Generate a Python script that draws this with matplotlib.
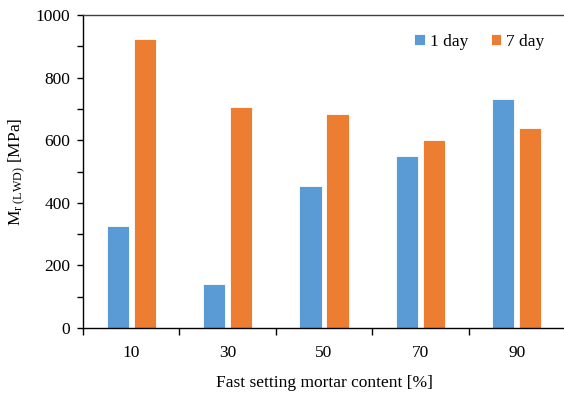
import matplotlib
matplotlib.use("Agg")
import matplotlib.pyplot as plt
import numpy as np
from matplotlib.ticker import MultipleLocator

categories = ["10", "30", "50", "70", "90"]
day1 = [325, 140, 455, 548, 733]
day7 = [922, 705, 683, 602, 638]
series_names = ["1 day", "7 day"]
colors = ["#5B9BD5", "#ED7D31"]

plt.rcParams['font.family'] = ['Liberation Serif']
plt.rcParams['mathtext.fontset'] = 'custom'
plt.rcParams['mathtext.rm'] = 'Liberation Serif'
plt.rcParams['mathtext.it'] = 'Liberation Serif:italic'

fs = 12.5
fig = plt.figure(figsize=(5.64, 3.94), dpi=100)
ax = fig.add_axes([83/564, 1 - 328/394, (565 - 83)/564, (328 - 15)/394])

x = np.arange(len(categories))
w = 0.23
ax.bar(x - 0.14, day1, w, color=colors[0], edgecolor="white", linewidth=0.6, label=series_names[0], zorder=2)
ax.bar(x + 0.14, day7, w, color=colors[1], edgecolor="white", linewidth=0.6, label=series_names[1], zorder=2)

ax.set_xlim(-0.5, len(categories) - 0.5)
ax.set_ylim(0, 1000)
ax.set_xticks(x)
ax.set_xticklabels(categories)
ax.set_xticks(np.arange(len(categories) + 1) - 0.5, minor=True)
ax.tick_params(axis='x', which='major', length=0, pad=12, labelsize=fs)
ax.tick_params(axis='x', which='minor', length=5, direction='out', width=1)
ax.yaxis.set_major_locator(MultipleLocator(200))
ax.yaxis.set_minor_locator(MultipleLocator(100))
ax.tick_params(axis='y', which='both', length=4, direction='out', width=1, labelsize=fs, pad=5)

ax.spines['right'].set_visible(False)
for s in ['left', 'bottom', 'top']:
    ax.spines[s].set_linewidth(1.0)
ax.spines['top'].set_color('#404040')

ax.set_xlabel("Fast setting mortar content [%]", fontsize=fs, labelpad=10)
ax.set_ylabel(r"M$_{\mathrm{r}\ \mathrm{(LWD)}}$ [MPa]", fontsize=fs, labelpad=6)

ax.legend(loc='upper right', bbox_to_anchor=(0.99, 0.99), ncol=2, frameon=False, fontsize=fs,
          handlelength=0.6, handleheight=0.6, handletextpad=0.3, columnspacing=1.3)

fig.savefig("out.png", dpi=100)
